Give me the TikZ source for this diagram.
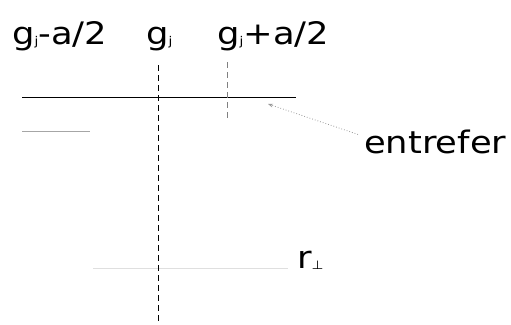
\documentclass[tikz,border=0pt]{standalone}
\usepackage{fontspec}
\newfontfamily\labelfont[FakeStretch=1.14]{DejaVu Sans}
\usetikzlibrary{arrows.meta,positioning,calc}
\newcommand{\idx}[1]{\raisebox{-0.1ex}{\fontsize{12}{12}\selectfont #1}}

\begin{document}
\begin{tikzpicture}[x=1pt,y=-1pt,
    lbl/.style={anchor=base west, inner sep=0pt, font=\labelfont\fontsize{31}{33}\selectfont},
    axe/.style={dash pattern=on 6pt off 4pt}]
    \useasboundingbox (0,0) rectangle (511,324);

    % Etiquettes
    \node[lbl] (gmoins) at (12,44) {g\idx{j}-a/2};
    \node[lbl] (gcentre) at (146,44) {g\idx{j}};
    \node[lbl] (gplus) at (217,44) {g\idx{j}+a/2};
    \node[lbl] (entrefer) at (364,153) {entrefer};
    \node[lbl] (rperp) at (297,268) {r\idx{⊥}};

    % Traits horizontaux
    \draw[line width=0.9pt] (22,97) -- (296,97);
    \draw[gray!70, line width=0.7pt] (22,131) -- (90,131);
    \draw[gray!25, line width=0.7pt] (93,268) -- (288,268);

    % Axes verticaux
    \draw[axe, line width=0.8pt] (158,65) -- (158,324);
    \draw[axe, gray, line width=0.6pt] (227,62) -- (227,118);

    % Renvoi
    \coordinate (pointe) at (268,104);
    \draw[dotted, gray!80, line width=0.8pt, -{Stealth[length=5pt]}]
        ($(entrefer.west)+(-6,-7)$) -- (pointe);
\end{tikzpicture}
\end{document}
